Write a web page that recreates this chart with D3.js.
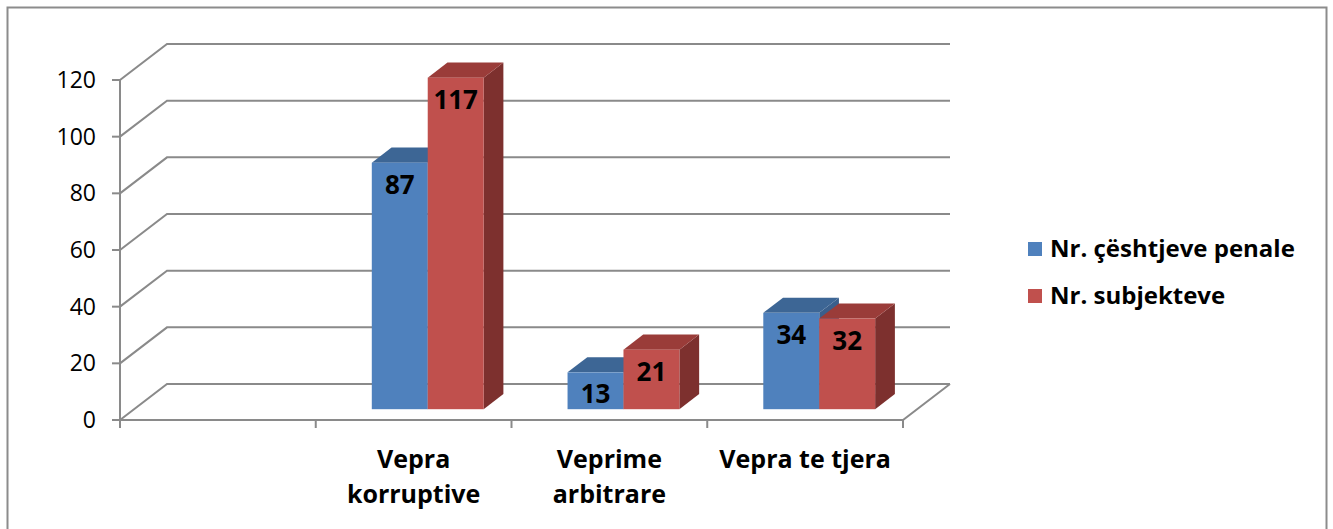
<!DOCTYPE html>
<html lang="sq">
    <head>
        <meta charset="utf-8">
        <title>Vepra penale</title>
        <script src="https://cdn.jsdelivr.net/npm/d3@7"></script>
        <style>
            body { margin: 0; background: #fff; }
            text { font-family: "Open Sans", Lato, sans-serif; }
        </style>
    </head>
    <body>
        <script>
            // data
            var categories = ["", "Vepra korruptive", "Veprime arbitrare", "Vepra te tjera"];
            var tickLines = [[""], ["Vepra", "korruptive"], ["Veprime", "arbitrare"], ["Vepra te tjera"]];
            var seriesNames = ["Nr. çështjeve penale", "Nr. subjekteve"];
            var casesValues = [null, 87, 13, 34];
            var subjectValues = [null, 117, 21, 32];
            var yTicks = [0, 20, 40, 60, 80, 100, 120];

            var w = 1333, h = 529;
            var left = 120, right = 903, base = 420;
            var depthX = 47, depthY = 36;     // full depth of the floor
            var t0 = 0.3, t1 = 0.72;          // where the bars sit in the depth

            var colors = [
                {front: "#4f81bd", top: "#3d6695", side: "#3a5f8c"},
                {front: "#c0504d", top: "#9a3c39", side: "#7d302e"}
            ];
            var gridColor = "#8a8a8a";

            var svg = d3.select("body").append("svg")
                .attr("width", w)
                .attr("height", h);

            svg.append("rect")
                .attr("x", 7.5).attr("y", 7.5)
                .attr("width", 1319).attr("height", 530)
                .attr("fill", "#fff")
                .attr("stroke", "#8c8c8c")
                .attr("stroke-width", 2);

            var yScale = d3.scaleLinear().domain([0, 120]).range([0, 340]);
            var xScale = d3.scaleBand().domain(categories).range([left, right]);
            var inner = d3.scaleBand().domain(seriesNames)
                .range([0, xScale.bandwidth()])
                .paddingOuter(0.75);

            // walls: gridlines go from front axis back to the wall then across
            var grid = svg.append("g").attr("fill", "none")
                .attr("stroke", gridColor).attr("stroke-width", 2);
            yTicks.forEach(function (v) {
                var yf = base - yScale(v);
                grid.append("polyline").attr("points", [
                    [left, yf],
                    [left + depthX, yf - depthY],
                    [right + depthX, yf - depthY]
                ].join(" "));
            });
            // floor edges
            grid.append("polyline").attr("points", [
                [left, base], [right, base], [right + depthX, base - depthY]
            ].join(" "));

            // value axis
            var axis = svg.append("g").attr("stroke", gridColor).attr("stroke-width", 2);
            axis.append("line")
                .attr("x1", left).attr("x2", left)
                .attr("y1", base - yScale(120)).attr("y2", base + 8);
            yTicks.forEach(function (v) {
                axis.append("line")
                    .attr("x1", left - 8).attr("x2", left)
                    .attr("y1", base - yScale(v)).attr("y2", base - yScale(v));
            });
            // category ticks
            xScale.domain().concat(["end"]).forEach(function (c, i) {
                var x = i < categories.length ? xScale(c) : right;
                axis.append("line")
                    .attr("x1", x).attr("x2", x)
                    .attr("y1", base).attr("y2", base + 8);
            });

            svg.append("g").selectAll("text")
                .data(yTicks)
                .enter()
                .append("text")
                .attr("x", 96)
                .attr("y", function (d) { return base - yScale(d) + 8; })
                .attr("text-anchor", "end")
                .attr("font-size", "23px")
                .attr("fill", "#000")
                .text(function (d) { return d; });

            // bars, left to right so the nearer right faces overlap properly
            var bars = svg.append("g");
            var allSeries = [casesValues, subjectValues];
            categories.forEach(function (c, ci) {
                seriesNames.forEach(function (s, si) {
                    var v = allSeries[si][ci];
                    if (v == null) return;
                    var x0 = xScale(c) + inner(s) + depthX * t0;
                    var x1 = x0 + inner.bandwidth();
                    var yb = base - depthY * t0;
                    var yt = yb - yScale(v);
                    var dx = depthX * (t1 - t0), dy = depthY * (t1 - t0);
                    var col = colors[si];
                    bars.append("polygon")
                        .attr("points", [[x1, yb], [x1 + dx, yb - dy], [x1 + dx, yt - dy], [x1, yt]].join(" "))
                        .attr("fill", col.side);
                    bars.append("polygon")
                        .attr("points", [[x0, yt], [x1, yt], [x1 + dx, yt - dy], [x0 + dx, yt - dy]].join(" "))
                        .attr("fill", col.top);
                    bars.append("rect")
                        .attr("x", x0).attr("y", yt)
                        .attr("width", x1 - x0).attr("height", yb - yt)
                        .attr("fill", col.front);
                });
            });

            // value labels
            categories.forEach(function (c, ci) {
                seriesNames.forEach(function (s, si) {
                    var v = allSeries[si][ci];
                    if (v == null) return;
                    var cx = xScale(c) + inner(s) + inner.bandwidth() / 2 + depthX * t0;
                    var yt = base - depthY * t0 - yScale(v);
                    svg.append("text")
                        .attr("x", cx)
                        .attr("y", yt + 31)
                        .attr("text-anchor", "middle")
                        .attr("font-size", "26px")
                        .attr("font-weight", "bold")
                        .attr("fill", "#000")
                        .text(v);
                });
            });

            // category labels
            var catG = svg.append("g");
            categories.forEach(function (c, ci) {
                var t = catG.append("text")
                    .attr("text-anchor", "middle")
                    .attr("font-size", "25px")
                    .attr("font-weight", "bold")
                    .attr("fill", "#000");
                tickLines[ci].forEach(function (line, li) {
                    t.append("tspan")
                        .attr("x", xScale(c) + xScale.bandwidth() / 2)
                        .attr("y", 468 + li * 35)
                        .text(line);
                });
            });

            // legend
            var legend = svg.append("g");
            seriesNames.forEach(function (s, i) {
                var y = 242 + i * 47;
                legend.append("rect")
                    .attr("x", 1028).attr("y", y)
                    .attr("width", 14).attr("height", 14)
                    .attr("fill", colors[i].front);
                legend.append("text")
                    .attr("x", 1050).attr("y", y + 15)
                    .attr("font-size", "24px")
                    .attr("font-weight", "bold")
                    .attr("fill", "#000")
                    .text(s);
            });
        </script>
    </body>
</html>
